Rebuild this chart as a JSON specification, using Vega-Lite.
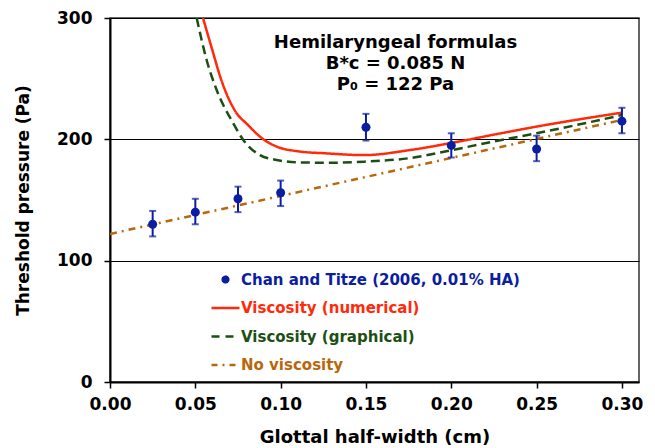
{
  "$schema": "https://vega.github.io/schema/vega-lite/v6.json",
  "width": 529,
  "height": 364,
  "autosize": {"type": "none"},
  "padding": {"left": 110, "top": 18, "right": 16, "bottom": 66},
  "title": {
    "text": ["Hemilaryngeal formulas", "B*c = 0.085 N", "P₀ = 122 Pa"],
    "orient": "top",
    "anchor": "middle",
    "frame": "group",
    "baseline": "bottom",
    "offset": -103,
    "dx": 21,
    "font": "DejaVu Sans",
    "fontWeight": "bold",
    "fontSize": 18,
    "lineHeight": 21,
    "color": "#000000"
  },
  "config": {
    "font": "DejaVu Sans",
    "view": {"stroke": "#333333", "strokeWidth": 1.5},
    "axis": {
      "labelFont": "DejaVu Sans",
      "labelFontWeight": "bold",
      "labelFontSize": 17,
      "labelColor": "#000000",
      "labelFlush": false,
      "titleFont": "DejaVu Sans",
      "titleFontWeight": "bold",
      "titleFontSize": 17,
      "titleColor": "#000000",
      "domainColor": "#000000",
      "domainWidth": 2,
      "tickColor": "#000000",
      "tickWidth": 1.5,
      "tickSize": 6
    }
  },
  "datasets": {
    "obs": [
      {"x": 0.025, "p": 130, "lo": 120, "hi": 141},
      {"x": 0.05, "p": 140, "lo": 130, "hi": 151},
      {"x": 0.075, "p": 151, "lo": 140, "hi": 161},
      {"x": 0.1, "p": 156, "lo": 145, "hi": 166},
      {"x": 0.15, "p": 210, "lo": 199, "hi": 221},
      {"x": 0.2, "p": 195, "lo": 185, "hi": 205},
      {"x": 0.25, "p": 192, "lo": 182, "hi": 203},
      {"x": 0.3, "p": 215, "lo": 205, "hi": 226}
    ],
    "curves": [
      {"series": "Viscosity (numerical)", "x": 0.0545, "p": 300},
      {"series": "Viscosity (numerical)", "x": 0.0605, "p": 271},
      {"series": "Viscosity (numerical)", "x": 0.0645, "p": 252},
      {"series": "Viscosity (numerical)", "x": 0.0742, "p": 221.5},
      {"series": "Viscosity (numerical)", "x": 0.08, "p": 213},
      {"series": "Viscosity (numerical)", "x": 0.0899, "p": 200},
      {"series": "Viscosity (numerical)", "x": 0.0977, "p": 194},
      {"series": "Viscosity (numerical)", "x": 0.111, "p": 190},
      {"series": "Viscosity (numerical)", "x": 0.126, "p": 188.5},
      {"series": "Viscosity (numerical)", "x": 0.149, "p": 187},
      {"series": "Viscosity (numerical)", "x": 0.175, "p": 191},
      {"series": "Viscosity (numerical)", "x": 0.2, "p": 197},
      {"series": "Viscosity (numerical)", "x": 0.224, "p": 203.6},
      {"series": "Viscosity (numerical)", "x": 0.25, "p": 210.5},
      {"series": "Viscosity (numerical)", "x": 0.3, "p": 222},
      {"series": "Viscosity (graphical)", "x": 0.0508, "p": 300},
      {"series": "Viscosity (graphical)", "x": 0.0567, "p": 265},
      {"series": "Viscosity (graphical)", "x": 0.0625, "p": 240.7},
      {"series": "Viscosity (graphical)", "x": 0.0723, "p": 213},
      {"series": "Viscosity (graphical)", "x": 0.0781, "p": 199.5},
      {"series": "Viscosity (graphical)", "x": 0.0879, "p": 187},
      {"series": "Viscosity (graphical)", "x": 0.0977, "p": 183},
      {"series": "Viscosity (graphical)", "x": 0.111, "p": 181},
      {"series": "Viscosity (graphical)", "x": 0.129, "p": 180.7},
      {"series": "Viscosity (graphical)", "x": 0.149, "p": 181.6},
      {"series": "Viscosity (graphical)", "x": 0.175, "p": 184.4},
      {"series": "Viscosity (graphical)", "x": 0.2, "p": 191},
      {"series": "Viscosity (graphical)", "x": 0.224, "p": 198},
      {"series": "Viscosity (graphical)", "x": 0.25, "p": 205},
      {"series": "Viscosity (graphical)", "x": 0.3, "p": 220},
      {"series": "No viscosity", "x": 0, "p": 122},
      {"series": "No viscosity", "x": 0.3, "p": 216}
    ],
    "points": [
      {"series": "Chan and Titze (2006, 0.01% HA)", "x": 0.025, "p": 130},
      {"series": "Chan and Titze (2006, 0.01% HA)", "x": 0.05, "p": 140},
      {"series": "Chan and Titze (2006, 0.01% HA)", "x": 0.075, "p": 151},
      {"series": "Chan and Titze (2006, 0.01% HA)", "x": 0.1, "p": 156},
      {"series": "Chan and Titze (2006, 0.01% HA)", "x": 0.15, "p": 210},
      {"series": "Chan and Titze (2006, 0.01% HA)", "x": 0.2, "p": 195},
      {"series": "Chan and Titze (2006, 0.01% HA)", "x": 0.25, "p": 192},
      {"series": "Chan and Titze (2006, 0.01% HA)", "x": 0.3, "p": 215}
    ]
  },
  "encoding": {
    "x": {
      "field": "x",
      "type": "quantitative",
      "scale": {"domain": [0, 0.31], "nice": false, "zero": false},
      "axis": {
        "title": "Glottal  half-width (cm)",
        "titleFontSize": 18,
        "values": [0, 0.05, 0.1, 0.15, 0.2, 0.25, 0.3],
        "format": ".2f",
        "grid": false,
        "labelPadding": 8,
        "titlePadding": 16
      }
    },
    "y": {
      "field": "p",
      "type": "quantitative",
      "scale": {"domain": [0, 300], "nice": false},
      "axis": {
        "title": "Threshold pressure (Pa)",
        "values": [0, 100, 200, 300],
        "grid": true,
        "gridColor": "#000000",
        "gridWidth": 1,
        "gridOpacity": 1,
        "labelPadding": 12,
        "titlePadding": 24
      }
    }
  },
  "layer": [
    {
      "data": {"name": "curves"},
      "mark": {"type": "line", "interpolate": "monotone", "clip": true},
      "encoding": {
        "color": {"field": "series", "type": "nominal"},
        "strokeDash": {
          "field": "series",
          "type": "nominal",
          "scale": {
            "domain": ["Viscosity (numerical)", "Viscosity (graphical)", "No viscosity"],
            "range": [[1, 0], [9, 5], [7, 5, 2, 5]]
          },
          "legend": null
        },
        "strokeWidth": {
          "field": "series",
          "type": "nominal",
          "scale": {
            "domain": ["Viscosity (numerical)", "Viscosity (graphical)", "No viscosity"],
            "range": [2.5, 2.5, 2]
          },
          "legend": null
        }
      }
    },
    {
      "data": {"name": "obs"},
      "mark": {"type": "errorbar", "ticks": {"size": 7}, "color": "#0b1ea0", "thickness": 2},
      "encoding": {
        "y": {"field": "lo", "type": "quantitative"},
        "y2": {"field": "hi"}
      }
    },
    {
      "data": {"name": "points"},
      "mark": {"type": "point", "filled": true, "opacity": 1, "size": 81},
      "encoding": {
        "color": {
          "field": "series",
          "type": "nominal",
          "scale": {
            "domain": ["Chan and Titze (2006, 0.01% HA)", "Viscosity (numerical)", "Viscosity (graphical)", "No viscosity"],
            "range": ["#0b1ea0", "#ff2a0a", "#1c4f14", "#b8680c"]
          },
          "legend": {
            "title": null,
            "orient": "none",
            "legendX": 100,
            "legendY": 246,
            "symbolSize": 784,
            "symbolType": {"expr": "datum.value === 'Chan and Titze (2006, 0.01% HA)' ? 'M-0.2,0A0.2,0.2,0,1,1,0.2,0A0.2,0.2,0,1,1,-0.2,0Z' : 'stroke'"},
            "symbolFillColor": {"expr": "datum.value === 'Chan and Titze (2006, 0.01% HA)' ? '#0b1ea0' : 'transparent'"},
            "symbolStrokeColor": {"expr": "scale('color', datum.value)"},
            "symbolStrokeWidth": 2.5,
            "symbolDash": {"expr": "datum.value === 'Viscosity (graphical)' ? [8, 6] : datum.value === 'No viscosity' ? [6, 5, 2, 5] : [1, 0]"},
            "symbolOpacity": 1,
            "labelColor": {"expr": "scale('color', datum.value)"},
            "labelFont": "DejaVu Sans",
            "labelFontWeight": "bold",
            "labelFontSize": 15,
            "labelOffset": 0,
            "labelLimit": 400,
            "rowPadding": 4.5
          }
        }
      }
    }
  ]
}
